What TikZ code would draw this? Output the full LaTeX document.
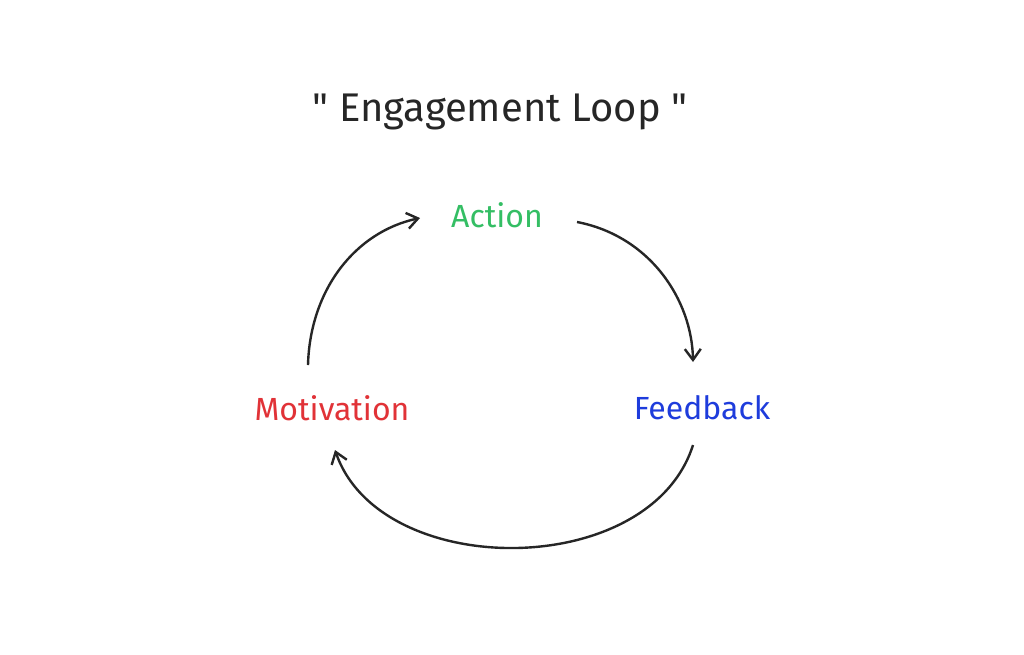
\documentclass[tikz,border=0pt]{standalone}
\usepackage{fontspec}
\setmainfont{Fira Sans}
\usetikzlibrary{arrows.meta}
\begin{document}
\begin{tikzpicture}[x=1pt,y=-1pt,
  lbl/.style={font=\fontsize{32}{36}\selectfont},
  loop/.style={draw=black!85,line width=2.4pt,-{Straight Barb[length=11pt,width=16pt]}}]
\useasboundingbox[fill=white] (0,0) rectangle (1024,654);
\node[font=\fontsize{40}{46}\selectfont, text=black!85] (title) at (500,112) {\textquotedbl\ Engagement Loop\ \textquotedbl};
\node[lbl, text={rgb,255:red,52;green,190;blue,100}] (act) at (497,215) {Action};
\node[lbl, text={rgb,255:red,30;green,60;blue,220}] (fb) at (702,408) {Feedback};
\node[lbl, text={rgb,255:red,225;green,50;blue,55}] (mot) at (332,408) {Motivation};
\coordinate (a1) at (577,222); \coordinate (a2) at (693,362);
\coordinate (b1) at (693,445); \coordinate (b2) at (335,450);
\coordinate (c1) at (308,365); \coordinate (c2) at (420,218);
\draw[loop] (a1) .. controls (650,236) and (692,300) .. (a2);
\draw[loop] (b1) .. controls (650,581) and (380,581) .. (b2);
\draw[loop] (c1) .. controls (310,290) and (355,232) .. (c2);
\end{tikzpicture}
\end{document}
